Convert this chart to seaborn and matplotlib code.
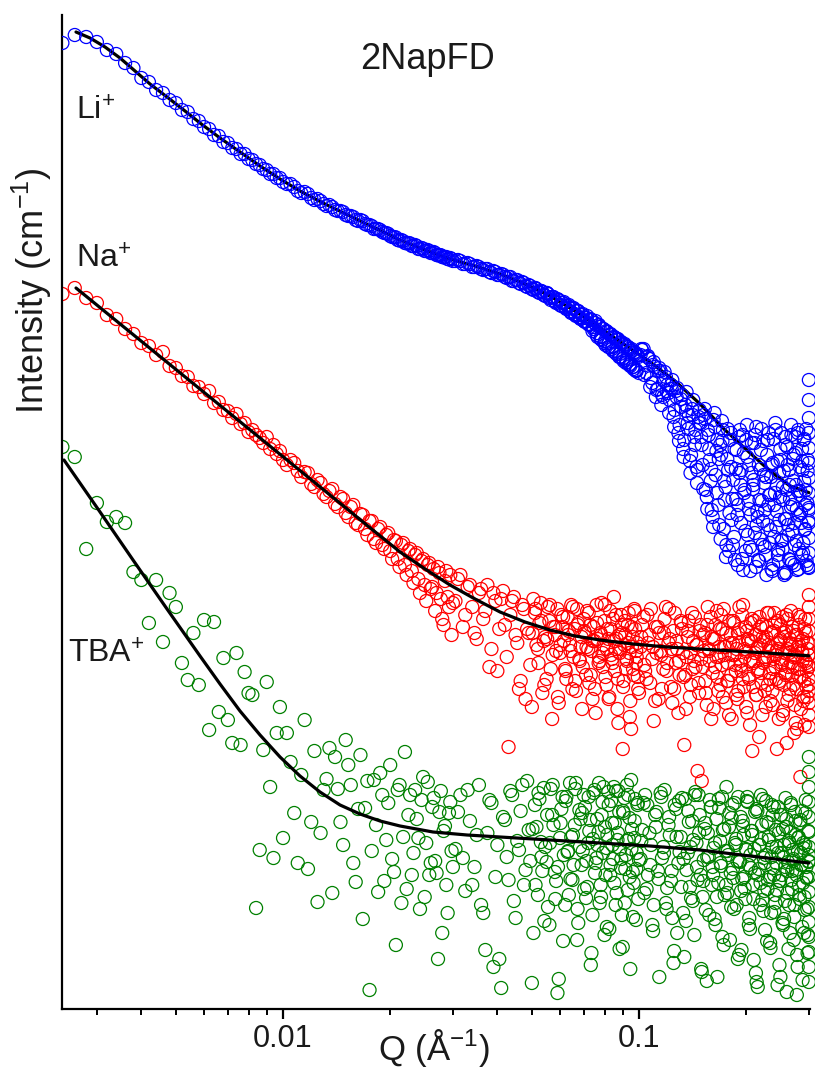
import numpy as np
import matplotlib
matplotlib.use("Agg")
import matplotlib.pyplot as plt
from matplotlib.ticker import LogLocator, NullFormatter, NullLocator
import seaborn as sns

sns.set_theme(style="white")
plt.rcParams["font.family"] = ["Liberation Sans", "DejaVu Sans"]
plt.rcParams["mathtext.fontset"] = "custom"
plt.rcParams["mathtext.rm"] = "Liberation Sans"
plt.rcParams["mathtext.it"] = "Liberation Sans:italic"
plt.rcParams["mathtext.bf"] = "Liberation Sans:bold"
plt.rcParams["mathtext.default"] = "regular"

# ---- scattering vector grid of the first detector setting (1/Angstrom) ----
q_grid = [
    0.0024, 0.0026, 0.0028, 0.0030, 0.0032, 0.0034, 0.0036, 0.0038, 0.0040, 0.0042,
    0.0044, 0.0046, 0.0048, 0.0050, 0.0052, 0.0054, 0.0056, 0.0058, 0.0060, 0.0062,
    0.0064, 0.0066, 0.0068, 0.0070, 0.0072, 0.0074, 0.0076, 0.0078, 0.0080, 0.0082,
    0.0084, 0.0086, 0.0088, 0.0090, 0.0092, 0.0094, 0.0096, 0.0098, 0.0100,
    0.0105, 0.0110, 0.0115, 0.0120, 0.0125, 0.0130, 0.0135, 0.0140, 0.0145, 0.0150,
    0.0155, 0.0160, 0.0165, 0.0170, 0.0175, 0.0180, 0.0185, 0.0190, 0.0195, 0.0200,
    0.0205, 0.0210, 0.0215, 0.0220, 0.0225, 0.0230, 0.0235, 0.0240, 0.0245, 0.0250,
    0.0255, 0.0260, 0.0265, 0.0270, 0.0275, 0.0280, 0.0285, 0.0290, 0.0295, 0.0300,
    0.031, 0.032, 0.033, 0.034, 0.035, 0.036, 0.037, 0.038, 0.039, 0.040,
    0.041, 0.042, 0.043, 0.044, 0.045, 0.046, 0.047, 0.048, 0.049, 0.050,
    0.051, 0.052, 0.053, 0.054, 0.055, 0.056, 0.057, 0.058, 0.059, 0.060,
    0.061, 0.062, 0.063, 0.064, 0.065, 0.066, 0.067, 0.068, 0.069, 0.070,
    0.071, 0.072, 0.073, 0.074, 0.075, 0.076, 0.077, 0.078, 0.079, 0.080,
    0.081, 0.082, 0.083, 0.084, 0.085, 0.086, 0.087, 0.088, 0.089, 0.090,
    0.091, 0.092, 0.093, 0.094, 0.095, 0.096, 0.097, 0.098, 0.099, 0.100,
    0.102, 0.104, 0.106, 0.108, 0.110, 0.112, 0.114, 0.116, 0.118, 0.120,
    0.122, 0.124, 0.126, 0.128, 0.130, 0.132, 0.134, 0.136, 0.138, 0.140,
    0.142, 0.144, 0.146, 0.148, 0.150, 0.152, 0.154, 0.156, 0.158, 0.160,
    0.162, 0.164, 0.166, 0.168, 0.170, 0.172, 0.174, 0.176, 0.178, 0.180,
    0.182, 0.184, 0.186, 0.188, 0.190, 0.192, 0.194, 0.196, 0.198, 0.200,
    0.202, 0.204, 0.206, 0.208, 0.210, 0.212, 0.214, 0.216, 0.218, 0.220,
    0.222, 0.224, 0.226, 0.228, 0.230, 0.232, 0.234, 0.236, 0.238, 0.240,
    0.242, 0.244, 0.246, 0.248, 0.250, 0.252, 0.254, 0.256, 0.258, 0.260,
    0.262, 0.264, 0.266, 0.268, 0.270, 0.272, 0.274, 0.276, 0.278, 0.280,
    0.282, 0.284, 0.286, 0.288, 0.290, 0.292, 0.294, 0.296, 0.298, 0.300,
]

# ---- interleaved grid of the second detector setting ----
q_grid2 = [
    0.01025, 0.01075, 0.01125, 0.01175, 0.01225, 0.01275, 0.01325, 0.01375, 0.01425, 0.01475,
    0.01525, 0.01575, 0.01625, 0.01675, 0.01725, 0.01775, 0.01825, 0.01875, 0.01925, 0.01975,
    0.02025, 0.02075, 0.02125, 0.02175, 0.02225, 0.02275, 0.02325, 0.02375, 0.02425, 0.02475,
    0.02525, 0.02575, 0.02625, 0.02675, 0.02725, 0.02775, 0.02825, 0.02875, 0.02925, 0.02975,
    0.0305, 0.0315, 0.0325, 0.0335, 0.0345, 0.0355, 0.0365, 0.0375, 0.0385, 0.0395,
    0.0405, 0.0415, 0.0425, 0.0435, 0.0445, 0.0455, 0.0465, 0.0475, 0.0485, 0.0495,
    0.0505, 0.0515, 0.0525, 0.0535, 0.0545, 0.0555, 0.0565, 0.0575, 0.0585, 0.0595,
    0.0605, 0.0615, 0.0625, 0.0635, 0.0645, 0.0655, 0.0665, 0.0675, 0.0685, 0.0695,
    0.0705, 0.0715, 0.0725, 0.0735, 0.0745, 0.0755, 0.0765, 0.0775, 0.0785, 0.0795,
    0.0805, 0.0815, 0.0825, 0.0835, 0.0845, 0.0855, 0.0865, 0.0875, 0.0885, 0.0895,
    0.0905, 0.0915, 0.0925, 0.0935, 0.0945, 0.0955, 0.0965, 0.0975, 0.0985, 0.0995,
    0.101, 0.103, 0.105, 0.107, 0.109, 0.111, 0.113, 0.115, 0.117, 0.119,
    0.121, 0.123, 0.125, 0.127, 0.129, 0.131, 0.133, 0.135, 0.137, 0.139,
    0.141, 0.143, 0.145, 0.147, 0.149, 0.151, 0.153, 0.155, 0.157, 0.159,
    0.161, 0.163, 0.165, 0.167, 0.169, 0.171, 0.173, 0.175, 0.177, 0.179,
    0.181, 0.183, 0.185, 0.187, 0.189, 0.191, 0.193, 0.195, 0.197, 0.199,
    0.201, 0.203, 0.205, 0.207, 0.209, 0.211, 0.213, 0.215, 0.217, 0.219,
    0.221, 0.223, 0.225, 0.227, 0.229, 0.231, 0.233, 0.235, 0.237, 0.239,
    0.241, 0.243, 0.245, 0.247, 0.249, 0.251, 0.253, 0.255, 0.257, 0.259,
    0.261, 0.263, 0.265, 0.267, 0.269, 0.271, 0.273, 0.275, 0.277, 0.279,
    0.281, 0.283, 0.285, 0.287, 0.289, 0.291, 0.293, 0.295, 0.297, 0.299,
]

# ---- third setting, high-Q range only ----
q_grid3 = [
    0.0502, 0.0512, 0.0522, 0.0532, 0.0542, 0.0552, 0.0562, 0.0572, 0.0582, 0.0592,
    0.0602, 0.0612, 0.0622, 0.0632, 0.0642, 0.0652, 0.0662, 0.0672, 0.0682, 0.0692,
    0.0702, 0.0712, 0.0722, 0.0732, 0.0742, 0.0752, 0.0762, 0.0772, 0.0782, 0.0792,
    0.0802, 0.0812, 0.0822, 0.0832, 0.0842, 0.0852, 0.0862, 0.0872, 0.0882, 0.0892,
    0.0902, 0.0912, 0.0922, 0.0932, 0.0942, 0.0952, 0.0962, 0.0972, 0.0982, 0.0992,
    0.1015, 0.1035, 0.1055, 0.1075, 0.1095, 0.1115, 0.1135, 0.1155, 0.1175, 0.1195,
    0.1215, 0.1235, 0.1255, 0.1275, 0.1295, 0.1315, 0.1335, 0.1355, 0.1375, 0.1395,
    0.1415, 0.1435, 0.1455, 0.1475, 0.1495, 0.1515, 0.1535, 0.1555, 0.1575, 0.1595,
    0.1615, 0.1635, 0.1655, 0.1675, 0.1695, 0.1715, 0.1735, 0.1755, 0.1775, 0.1795,
    0.1815, 0.1835, 0.1855, 0.1875, 0.1895, 0.1915, 0.1935, 0.1955, 0.1975, 0.1995,
    0.2015, 0.2035, 0.2055, 0.2075, 0.2095, 0.2115, 0.2135, 0.2155, 0.2175, 0.2195,
    0.2215, 0.2235, 0.2255, 0.2275, 0.2295, 0.2315, 0.2335, 0.2355, 0.2375, 0.2395,
    0.2415, 0.2435, 0.2455, 0.2475, 0.2495, 0.2515, 0.2535, 0.2555, 0.2575, 0.2595,
    0.2615, 0.2635, 0.2655, 0.2675, 0.2695, 0.2715, 0.2735, 0.2755, 0.2775, 0.2795,
    0.2815, 0.2835, 0.2855, 0.2875, 0.2895, 0.2915, 0.2935, 0.2955, 0.2975, 0.2995,
]

# ---- measured intensities, log10(I / cm^-1), curves offset for clarity ----
li_log_i = [
    2.83, 2.87, 2.86, 2.835, 2.795, 2.775, 2.73, 2.705, 2.655, 2.635,
    2.595, 2.58, 2.545, 2.53, 2.495, 2.485, 2.45, 2.44, 2.41, 2.40,
    2.37, 2.365, 2.335, 2.33, 2.305, 2.30, 2.275, 2.275, 2.25, 2.245,
    2.225, 2.22, 2.20, 2.195, 2.175, 2.175, 2.155, 2.155, 2.135,
    2.125, 2.09, 2.085, 2.055, 2.05, 2.025, 2.02, 1.995, 1.99, 1.97,
    1.965, 1.945, 1.945, 1.925, 1.92, 1.90, 1.90, 1.885, 1.88, 1.865,
    1.86, 1.845, 1.845, 1.83, 1.83, 1.815, 1.82, 1.80, 1.805, 1.79,
    1.795, 1.78, 1.785, 1.77, 1.77, 1.76, 1.76, 1.75, 1.755, 1.74,
    1.745, 1.725, 1.73, 1.71, 1.715, 1.70, 1.70, 1.685, 1.69, 1.67,
    1.675, 1.66, 1.66, 1.64, 1.645, 1.63, 1.635, 1.615, 1.62, 1.60,
    1.605, 1.585, 1.59, 1.57, 1.58, 1.555, 1.56, 1.54, 1.55, 1.52,
    1.53, 1.51, 1.515, 1.49, 1.505, 1.475, 1.49, 1.46, 1.47, 1.44,
    1.455, 1.425, 1.45, 1.39, 1.43, 1.37, 1.42, 1.35, 1.40, 1.33,
    1.39, 1.31, 1.37, 1.30, 1.36, 1.28, 1.35, 1.26, 1.33, 1.25,
    1.32, 1.23, 1.31, 1.22, 1.29, 1.21, 1.28, 1.19, 1.27, 1.18,
    1.295, 1.22, 1.265, 1.155, 1.235, 1.095, 1.205, 1.07, 1.185, 1.12,
    1.045, 1.145, 0.995, 1.105, 0.92, 1.07, 0.845, 1.085, 0.97, 0.77,
    1.045, 0.895, 0.695, 0.995, 0.82, 0.97, 0.595, 0.895, 0.745, 0.495,
    0.945, 0.67, 0.845, 0.42, 0.77, 0.895, 0.545, 0.32, 0.695, 0.845,
    0.445, 0.645, 0.245, 0.795, 0.52, 0.895, 0.695, 0.195, 0.595, 0.845,
    0.37, 0.72, 0.47, 0.295, 0.645, 0.87, 0.42, 0.245, 0.545, 0.795,
    0.32, 0.67, 0.495, 0.17, 0.845, 0.57, 0.395, 0.72, 0.22, 0.52,
    0.895, 0.62, 0.295, 0.445, 0.745, 0.345, 0.545, 0.17, 0.82, 0.595,
    0.42, 0.695, 0.245, 0.87, 0.52, 0.77, 0.32, 0.62, 0.195, 0.895,
    0.47, 0.57, 0.27, 0.695, 0.845, 0.395, 0.595, 0.22, 0.745, 0.495,
]
li2_log_i = [
    2.125, 2.11, 2.08, 2.075, 2.045, 2.04, 2.015, 2.01, 1.99, 1.985,
    1.965, 1.96, 1.94, 1.94, 1.92, 1.915, 1.90, 1.895, 1.88, 1.876,
    1.86, 1.858, 1.842, 1.84, 1.828, 1.828, 1.815, 1.815, 1.80, 1.802,
    1.79, 1.79, 1.78, 1.78, 1.768, 1.769, 1.758, 1.76, 1.748, 1.75,
    1.74, 1.74, 1.725, 1.725, 1.71, 1.71, 1.695, 1.70, 1.68, 1.685,
    1.67, 1.672, 1.655, 1.66, 1.64, 1.645, 1.625, 1.63, 1.61, 1.615,
    1.595, 1.60, 1.58, 1.585, 1.565, 1.575, 1.545, 1.56, 1.53, 1.545,
    1.515, 1.535, 1.50, 1.52, 1.48, 1.505, 1.465, 1.49, 1.45, 1.475,
    1.435, 1.465, 1.42, 1.445, 1.40, 1.44, 1.36, 1.41, 1.345, 1.40,
    1.32, 1.385, 1.31, 1.37, 1.29, 1.355, 1.275, 1.345, 1.26, 1.325,
    1.24, 1.315, 1.235, 1.30, 1.215, 1.29, 1.20, 1.275, 1.19, 1.26,
    1.27, 1.30, 1.18, 1.25, 1.13, 1.21, 1.10, 1.19, 1.06, 1.16,
    1.08, 1.12, 0.96, 1.09, 0.88, 1.05, 0.80, 1.02, 0.93, 0.74,
    1.00, 0.86, 0.71, 0.96, 0.93, 0.72, 1.00, 0.56, 0.87, 0.64,
    0.46, 0.98, 0.79, 0.52, 0.82, 0.94, 0.40, 0.61, 0.75, 0.29,
    0.88, 0.55, 0.36, 0.70, 0.47, 0.86, 0.62, 0.25, 0.78, 0.39,
    0.92, 0.54, 0.31, 0.68, 0.60, 0.83, 0.21, 0.49, 0.72, 0.35,
    0.90, 0.44, 0.63, 0.27, 0.77, 0.52, 0.33, 0.66, 0.19, 0.85,
    0.58, 0.41, 0.74, 0.24, 0.56, 0.88, 0.30, 0.69, 0.45, 0.18,
    0.81, 0.37, 0.62, 0.51, 0.23, 0.75, 0.43, 0.86, 0.34, 0.59,
    0.20, 0.71, 0.48, 0.80, 0.28, 0.64, 0.40, 0.90, 0.53, 0.21,
]
li3_log_i = [
    1.60, 1.605, 1.585, 1.59, 1.57, 1.58, 1.555, 1.56, 1.535, 1.545,
    1.52, 1.53, 1.505, 1.515, 1.485, 1.50, 1.47, 1.49, 1.455, 1.47,
    1.44, 1.455, 1.425, 1.445, 1.41, 1.43, 1.38, 1.42, 1.36, 1.40,
    1.34, 1.385, 1.33, 1.375, 1.31, 1.36, 1.29, 1.35, 1.275, 1.335,
    1.255, 1.325, 1.245, 1.31, 1.225, 1.30, 1.21, 1.285, 1.195, 1.27,
    1.30, 1.17, 1.26, 1.11, 1.22, 1.06, 1.19, 1.02, 1.14, 1.09,
    0.98, 1.10, 0.91, 1.06, 0.84, 1.01, 0.76, 0.99, 0.90, 0.68,
    0.97, 0.82, 0.63, 0.93, 0.86, 0.60, 0.95, 0.50, 0.80, 0.70,
    0.41, 0.91, 0.58, 0.75, 0.35, 0.84, 0.64, 0.26, 0.90, 0.48,
    0.71, 0.32, 0.80, 0.55, 0.22, 0.68, 0.43, 0.87, 0.58, 0.29,
    0.76, 0.50, 0.19, 0.83, 0.62, 0.38, 0.91, 0.46, 0.24, 0.70,
    0.54, 0.84, 0.31, 0.66, 0.42, 0.88, 0.57, 0.20, 0.73, 0.36,
    0.93, 0.49, 0.27, 0.68, 0.80, 0.34, 0.61, 0.18, 0.86, 0.45,
    0.72, 0.25, 0.55, 0.92, 0.39, 0.64, 0.22, 0.78, 0.50, 0.88,
    0.30, 0.59, 0.43, 0.74, 0.33, 0.85, 0.52, 0.24, 0.69, 0.44,
]
na_log_i = [
    1.575, 1.605, 1.555, 1.53, 1.47, 1.45, 1.40, 1.375, 1.33, 1.315,
    1.27, 1.285, 1.215, 1.205, 1.165, 1.16, 1.115, 1.11, 1.075, 1.09,
    1.03, 1.035, 0.995, 0.99, 0.955, 0.975, 0.925, 0.93, 0.885, 0.895,
    0.87, 0.855, 0.83, 0.86, 0.80, 0.82, 0.775, 0.79, 0.745,
    0.745, 0.69, 0.685, 0.625, 0.645, 0.575, 0.59, 0.525, 0.56, 0.48,
    0.51, 0.43, 0.475, 0.40, 0.44, 0.35, 0.40, 0.32, 0.37, 0.29,
    0.345, 0.25, 0.32, 0.22, 0.29, 0.19, 0.27, 0.15, 0.24, 0.12,
    0.22, 0.10, 0.20, 0.08, 0.18, -0.05, 0.14, 0.06, 0.17, 0.03,
    0.15, -0.09, 0.11, 0.01, -0.15, 0.10, -0.01, -0.29, 0.08, -0.31,
    0.05, -0.08, -0.69, 0.04, -0.13, -0.40, 0.02, -0.45, -0.12, -0.49,
    -0.02, -0.20, 0.03, -0.16, -0.35, -0.06, -0.55, -0.13, 0.0, -0.22,
    -0.09, -0.30, -0.04, -0.18, -0.40, -0.10, 0.0, -0.25, -0.14, -0.05,
    -0.33, -0.20, -0.08, -0.45, -0.16, 0.02, -0.27, -0.12, -0.22, -0.06,
    -0.38, -0.15, -0.01, -0.25, 0.06, -0.20, -0.50, -0.13, -0.03, -0.70,
    -0.18, -0.30, -0.08, -0.22, -0.60, -0.14, 0.0, -0.27, -0.17, -0.42,
    -0.08, -0.31, -0.17, 0.00, -0.56, -0.22, -0.12, -0.40, -0.05, -0.27,
    -0.15, -0.47, -0.02, -0.20, -0.33, -0.10, -0.68, -0.24, -0.06, -0.38,
    -0.16, -0.29, -0.81, -0.11, -0.86, -0.21, -0.42, 0.01, -0.26, -0.14,
    -0.50, -0.08, -0.34, -0.19, -0.03, -0.44, -0.23, -0.12, -0.36, -0.17,
    -0.55, -0.06, -0.28, -0.20, -0.41, -0.10, -0.31, 0.02, -0.24, -0.49,
    -0.15, -0.35, -0.07, -0.71, -0.26, -0.13, -0.43, -0.19, -0.04, -0.32,
    -0.53, -0.16, -0.25, -0.09, -0.38, -0.21, -0.46, -0.12, -0.30, -0.02,
    -0.23, -0.70, -0.17, -0.36, -0.08, -0.27, -0.51, -0.14, -0.33, -0.67,
    -0.05, -0.22, -0.40, -0.18, -0.29, -0.11, -0.48, -0.24, -0.60, -0.03,
    -0.34, -0.84, -0.16, -0.26, -0.44, -0.58, -0.12, -0.31, -0.20, -0.38,
]
na2_log_i = [
    0.72, 0.73, 0.66, 0.68, 0.61, 0.63, 0.56, 0.60, 0.51, 0.55,
    0.46, 0.52, 0.42, 0.47, 0.37, 0.44, 0.33, 0.41, 0.30, 0.38,
    0.25, 0.34, 0.21, 0.33, 0.17, 0.30, 0.13, 0.28, 0.08, 0.25,
    0.04, 0.23, 0.11, -0.01, 0.21, 0.05, -0.08, 0.19, 0.01, -0.13,
    0.04, 0.17, -0.03, 0.12, -0.12, 0.08, -0.05, 0.12, -0.20, 0.04,
    -0.10, 0.09, -0.24, -0.03, 0.06, -0.17, -0.36, 0.0, -0.10, -0.28,
    0.05, -0.18, -0.07, -0.42, -0.14, 0.01, -0.30, -0.09, -0.21, -0.47,
    -0.03, -0.16, -0.35, -0.11, 0.02, -0.24, -0.41, -0.07, -0.19, -0.29,
    -0.12, -0.01, -0.37, -0.21, -0.09, -0.52, -0.15, -0.26, 0.03, -0.18,
    -0.34, -0.10, -0.44, -0.23, -0.05, -0.31, -0.15, -0.57, -0.20, -0.08,
    -0.36, -0.13, -0.26, -0.02, -0.46, -0.19, -0.33, -0.10, -0.24, -0.40,
    -0.19, -0.04, -0.35, -0.13, -0.25, -0.46, -0.09, -0.21, -0.30, 0.01,
    -0.17, -0.39, -0.11, -0.27, -0.52, -0.06, -0.22, -0.33, -0.14, -0.44,
    -0.02, -0.26, -0.18, -0.37, -0.08, -0.29, -0.12, -0.48, -0.20, -0.04,
    -0.32, -0.15, -0.24, -0.41, -0.10, -0.28, 0.00, -0.19, -0.36, -0.53,
    -0.13, -0.23, -0.07, -0.31, -0.45, -0.17, -0.26, -0.03, -0.39, -0.21,
    -0.11, -0.34, -0.58, -0.16, -0.27, -0.06, -0.43, -0.20, -0.30, -0.09,
    -0.37, -0.14, -0.24, -0.49, -0.02, -0.18, -0.32, -0.12, -0.41, -0.25,
    -0.07, -0.35, -0.20, -0.55, -0.15, -0.28, -0.04, -0.38, -0.22, -0.11,
    -0.46, -0.29, -0.17, -0.01, -0.33, -0.24, -0.62, -0.13, -0.40, -0.19,
    -0.08, -0.30, -0.50, -0.21, -0.15, -0.36, -0.05, -0.27, -0.44, -0.23,
]
na3_log_i = [
    -0.12, 0.00, -0.27, -0.06, -0.38, -0.15, 0.02, -0.23, -0.09, -0.44,
    -0.18, -0.04, -0.31, -0.13, -0.21, 0.01, -0.36, -0.08, -0.26, -0.50,
    -0.11, -0.19, -0.02, -0.33, -0.16, -0.40, -0.07, -0.24, -0.13, -0.29,
    0.02, -0.20, -0.45, -0.10, -0.27, -0.16, -0.03, -0.35, -0.22, -0.12,
    -0.39, -0.06, -0.25, -0.17, -0.54, -0.09, -0.30, -0.01, -0.21, -0.34,
    -0.14, -0.28, -0.03, -0.37, -0.19, -0.09, -0.45, -0.23, -0.12, -0.31,
    0.00, -0.20, -0.40, -0.16, -0.26, -0.07, -0.34, -0.50, -0.11, -0.22,
    -0.30, -0.04, -0.18, -0.42, -0.25, -0.13, -0.36, -0.08, -0.21, -0.55,
    -0.15, -0.29, -0.01, -0.24, -0.38, -0.10, -0.19, -0.47, -0.27, -0.06,
    -0.33, -0.17, -0.23, -0.43, -0.12, 0.01, -0.28, -0.35, -0.20, -0.09,
    -0.52, -0.16, -0.26, -0.05, -0.39, -0.22, -0.13, -0.31, -0.64, -0.18,
    -0.08, -0.27, -0.41, -0.14, -0.24, -0.02, -0.35, -0.19, -0.48, -0.11,
    -0.29, -0.21, -0.06, -0.37, -0.16, -0.25, -0.53, -0.12, -0.32, -0.03,
    -0.20, -0.43, -0.15, -0.27, -0.09, -0.38, -0.23, -0.57, -0.13, -0.30,
    -0.18, -0.04, -0.34, -0.22, -0.46, -0.10, -0.26, -0.39, -0.17, -0.28,
]
tba_log_i = [
    0.81, 0.76, 0.30, 0.53, 0.435, 0.46, 0.43, 0.185, 0.145, -0.07,
    0.145, -0.165, 0.08, 0.01, -0.27, -0.355, -0.12, -0.38, -0.055, -0.605,
    -0.065, -0.515, -0.245, -0.555, -0.67, -0.22, -0.68, -0.315, -0.42, -0.43,
    -1.495, -1.205, -0.705, -0.365, -0.89, -1.245, -0.62, -0.49, -1.145,
    -0.765, -1.27, -0.555, -1.065, -1.465, -0.905, -0.695, -0.74, -1.065, -0.655,
    -0.88, -1.365, -0.73, -0.995, -1.905, -0.855, -1.415, -0.93, -1.155, -0.78,
    -1.315, -0.905, -1.47, -0.715, -1.03, -1.33, -0.905, -1.145, -0.955, -1.44,
    -0.865, -1.27, -0.945, -1.32, -1.015, -1.62, -1.085, -1.52, -0.965, -1.29,
    -1.015, -1.245, -0.905, -1.38, -1.13, -1.48, -1.705, -0.955, -1.79, -1.18,
    -1.895, -1.055, -1.355, -0.93, -1.545, -1.205, -0.88, -1.305, -1.105, -1.87,
    -0.98, -1.43, -1.165, -0.895, -1.265, -1.58, -1.03, -1.315, -1.92, -1.145,
    -0.94, -1.48, -1.215, -0.87, -1.355, -1.08, -1.655, -1.005, -1.28, -0.93,
    -1.445, -1.17, -1.055, -1.53, -0.905, -1.245, -1.115, -1.38, -0.965, -1.63,
    -1.195, -0.915, -1.33, -1.07, -0.89, -1.48, -1.155, -1.015, -1.295, -1.69,
    -0.945, -1.23, -1.405, -1.045, -0.855, -1.315, -1.145, -1.555, -0.98, -1.255,
    -1.105, -0.93, -1.33, -1.18, -1.48, -1.015, -1.84, -1.245, -0.905, -1.395,
    -1.13, -1.545, -0.98, -1.62, -1.215, -0.945, -1.74, -1.305, -1.065, -1.445,
    -1.155, -0.915, -1.355, -1.03, -1.815, -1.255, -1.505, -1.12, -0.955, -1.38,
    -1.195, -1.58, -1.84, -0.995, -1.285, -1.105, -1.43, -0.89, -1.23, -1.655,
    -1.045, -1.345, -1.17, -1.48, -0.94, -1.265, -1.705, -1.085, -1.395, -1.205,
    -0.965, -1.545, -1.295, -1.13, -1.755, -1.015, -1.865, -1.33, -1.18, -0.93,
    -1.455, -1.245, -1.605, -1.065, -1.355, -1.155, -1.695, -0.98, -1.295, -1.515,
    -1.105, -1.405, -1.22, -1.78, -1.03, -1.33, -1.58, -1.18, -0.945, -1.915,
    -1.265, -1.48, -1.115, -1.355, -1.205, -1.655, -1.015, -1.305, -1.73, -1.145,
    -1.43, -1.055, -1.28, -1.855, -1.195, -1.505, -0.955, -1.345, -1.63, -1.23,
]
tba2_log_i = [
    -0.62, -1.02, -0.83, -1.30, -0.71, -1.12, -0.85, -1.42, -0.90, -1.18,
    -0.78, -1.27, -1.00, -1.55, -0.86, -1.21, -1.08, -0.82, -1.36, -0.97,
    -1.25, -1.68, -0.88, -1.14, -1.40, -0.93, -1.22, -1.05, -1.50, -0.84,
    -1.17, -1.33, -0.99, -1.26, -1.75, -0.91, -1.11, -1.38, -1.02, -1.21,
    -1.20, -0.93, -1.41, -1.06, -1.29, -0.88, -1.52, -1.12, -0.97, -1.34,
    -1.75, -1.04, -1.24, -0.91, -1.46, -1.16, -1.01, -1.38, -0.86, -1.26,
    -1.62, -1.09, -0.95, -1.31, -1.19, -1.49, -0.90, -1.08, -1.36, -1.85,
    -1.00, -1.23, -0.94, -1.43, -1.14, -1.28, -0.87, -1.57, -1.05, -1.21,
    -0.99, -1.39, -1.11, -1.72, -0.92, -1.27, -1.18, -1.47, -1.03, -0.89,
    -1.33, -1.13, -1.60, -0.96, -1.25, -1.07, -1.42, -0.91, -1.20, -1.53,
    -1.02, -1.30, -0.88, -1.15, -1.80, -1.10, -1.37, -0.95, -1.22, -1.45,
    -1.25, -0.97, -1.40, -1.12, -1.58, -1.03, -1.31, -0.92, -1.19, -1.47,
    -1.08, -1.36, -1.77, -1.00, -1.27, -1.14, -1.52, -0.95, -1.22, -1.39,
    -1.06, -1.63, -1.17, -0.93, -1.33, -1.44, -1.10, -1.86, -1.24, -0.99,
    -1.29, -1.55, -1.05, -1.37, -1.16, -0.94, -1.68, -1.21, -1.42, -1.09,
    -1.32, -0.98, -1.50, -1.18, -1.26, -1.73, -1.04, -1.35, -1.13, -1.45,
    -0.96, -1.28, -1.60, -1.11, -1.38, -1.20, -1.82, -1.01, -1.30, -1.48,
    -1.15, -0.95, -1.41, -1.23, -1.66, -1.07, -1.34, -1.52, -1.19, -0.99,
    -1.43, -1.27, -1.88, -1.12, -1.36, -1.03, -1.57, -1.24, -1.46, -1.09,
    -1.31, -1.70, -1.17, -0.97, -1.40, -1.26, -1.54, -1.06, -1.33, -1.79,
    -1.14, -1.45, -1.22, -1.01, -1.37, -1.62, -1.18, -1.29, -1.50, -1.11,
]
tba3_log_i = [
    -1.10, -1.38, -0.92, -1.24, -1.56, -1.03, -1.17, -0.88, -1.45, -1.29,
    -1.07, -1.66, -0.96, -1.21, -1.35, -1.13, -0.90, -1.50, -1.19, -1.02,
    -1.40, -1.26, -0.94, -1.78, -1.15, -1.32, -1.05, -0.87, -1.44, -1.22,
    -1.09, -1.59, -0.98, -1.28, -1.18, -1.37, -0.91, -1.12, -1.70, -1.25,
    -1.01, -1.47, -1.16, -0.93, -1.34, -1.20, -1.54, -1.06, -1.30, -0.97,
    -1.16, -1.42, -0.98, -1.28, -1.61, -1.09, -1.35, -0.94, -1.22, -1.50,
    -1.04, -1.31, -1.71, -1.14, -0.96, -1.39, -1.25, -1.56, -1.01, -1.19,
    -1.46, -0.93, -1.29, -1.12, -1.80, -1.36, -1.07, -1.24, -1.53, -0.99,
    -1.33, -1.17, -1.44, -0.95, -1.27, -1.64, -1.10, -1.38, -1.21, -1.02,
    -1.49, -1.30, -0.97, -1.15, -1.75, -1.26, -1.41, -1.06, -1.34, -1.20,
    -0.94, -1.58, -1.23, -1.11, -1.45, -1.32, -1.00, -1.89, -1.18, -1.37,
    -1.08, -1.51, -1.27, -0.96, -1.40, -1.14, -1.67, -1.24, -1.03, -1.33,
    -1.47, -1.19, -0.99, -1.36, -1.84, -1.22, -1.10, -1.55, -1.29, -1.05,
    -1.42, -1.16, -1.62, -0.98, -1.31, -1.25, -1.48, -1.13, -1.93, -1.21,
    -1.38, -1.07, -1.28, -1.59, -1.17, -1.44, -1.02, -1.34, -1.72, -1.26,
]

# repeated readings collected at the last Q point of each run
q_edge_li = [0.300] * 13
li_edge_log_i = [1.145, 1.045, 0.955, 0.88, 0.805, 0.73, 0.655, 0.58, 0.505, 0.43,
                 0.355, 0.28, 0.205]
q_edge_na = [0.300] * 12
na_edge_log_i = [0.07, 0.01, -0.05, -0.11, -0.17, -0.23, -0.29, -0.35, -0.41, -0.47,
                 -0.53, -0.59]
q_edge_tba = [0.300] * 16
tba_edge_log_i = [-0.74, -0.815, -0.89, -0.965, -1.04, -1.115, -1.19, -1.265, -1.34,
                  -1.415, -1.49, -1.565, -1.64, -1.715, -1.79, -1.865]

# ---- model fits ----
li_fit_q = [0.002621, 0.002870, 0.003162, 0.003484, 0.003839, 0.004230, 0.004722,
            0.005305, 0.005845, 0.006653, 0.007571, 0.008618, 0.009808, 0.01116,
            0.01312, 0.01543, 0.01813, 0.02132, 0.02506, 0.02945, 0.03462, 0.04070,
            0.04784, 0.05623, 0.06610, 0.07770, 0.09134, 0.1074, 0.1262, 0.1484,
            0.1744, 0.2050, 0.2333, 0.2656, 0.300]
li_fit_log_i = [2.885, 2.855, 2.81, 2.755, 2.69, 2.625, 2.56, 2.49, 2.43, 2.355,
                2.285, 2.215, 2.15, 2.09, 2.025, 1.965, 1.905, 1.845, 1.795, 1.75,
                1.715, 1.675, 1.625, 1.565, 1.49, 1.405, 1.32, 1.235, 1.14, 1.025,
                0.895, 0.78, 0.69, 0.615, 0.582]
na_fit_q = [0.002621, 0.01543, 0.01813, 0.02132, 0.02506, 0.02945, 0.03462, 0.04070,
            0.04784, 0.05623, 0.06610, 0.07770, 0.09619, 0.1198, 0.1484, 0.1837,
            0.2289, 0.300]
na_fit_log_i = [1.605, 0.488, 0.386, 0.285, 0.20, 0.12, 0.05, -0.015, -0.065, -0.105,
                -0.135, -0.155, -0.175, -0.19, -0.20, -0.21, -0.22, -0.234]
tba_fit_q = [0.002425, 0.003062, 0.003790, 0.004722, 0.005845, 0.006653, 0.007571,
             0.008618, 0.009808, 0.01116, 0.01270, 0.01446, 0.01645, 0.01873,
             0.02132, 0.02638, 0.03287, 0.04070, 0.05623, 0.07770, 0.1074, 0.1484,
             0.2050, 0.300]
tba_fit_log_i = [0.745, 0.485, 0.245, 0.0, -0.235, -0.375, -0.51, -0.63, -0.74, -0.835,
                 -0.915, -0.98, -1.025, -1.06, -1.085, -1.115, -1.13, -1.14, -1.155,
                 -1.17, -1.185, -1.205, -1.235, -1.27]

W, H = 815, 1068
fig = plt.figure(figsize=(W / 100, H / 100), dpi=100)
ax = fig.add_axes([62 / W, 59 / H, 753 / W, 994 / H])
ax.set_xscale("log")
ax.set_yscale("log")
ax.set_xlim(0.002394, 0.3121)
ax.set_ylim(0.01, 10 ** 2.97)

q_all = q_grid + q_grid2 + q_grid3
# (Q, log I, fit Q, fit log I, colour, marker layer)
samples = [
    (q_all + q_edge_na, na_log_i + na2_log_i + na3_log_i + na_edge_log_i,
     na_fit_q, na_fit_log_i, "#ff0000", 2),
    (q_all + q_edge_tba, tba_log_i + tba2_log_i + tba3_log_i + tba_edge_log_i,
     tba_fit_q, tba_fit_log_i, "#008000", 2),
    (q_all + q_edge_li, li_log_i + li2_log_i + li3_log_i + li_edge_log_i,
     li_fit_q, li_fit_log_i, "#0000ff", 4),
]
for q, logi, fq, flogi, color, z in samples:
    sns.scatterplot(x=np.asarray(q), y=10 ** np.asarray(logi), ax=ax, marker="o",
                    s=88, facecolor="none", edgecolor=color, linewidth=0.9,
                    zorder=z, legend=False)
    sns.lineplot(x=np.asarray(fq), y=10 ** np.asarray(flogi), ax=ax, color="black",
                 linewidth=2.3, sort=False, estimator=None, zorder=3, legend=False)

for side in ("top", "right"):
    ax.spines[side].set_visible(False)
for side in ("left", "bottom"):
    ax.spines[side].set_color("black")
    ax.spines[side].set_linewidth(1.6)
ax.spines["bottom"].set_bounds(0.002394, 0.302)

ax.set_xticks([0.01, 0.1])
ax.set_xticklabels(["0.01", "0.1"])
ax.xaxis.set_minor_locator(LogLocator(base=10, subs=(2, 3, 4, 5, 6, 7, 8, 9), numticks=20))
ax.xaxis.set_minor_formatter(NullFormatter())
ax.yaxis.set_major_locator(NullLocator())
ax.yaxis.set_minor_locator(NullLocator())
ax.tick_params(axis="x", which="major", bottom=True, direction="out", length=7,
               width=1.6, labelsize=22, pad=3.5, colors="black", labelcolor="#1a1a1a")
ax.tick_params(axis="x", which="minor", bottom=True, direction="out", length=4,
               width=1.4, colors="black")
ax.set_xlabel("")
ax.set_ylabel("")

txt = "#1a1a1a"
fig.text(428 / W, 1 - 69 / H, "2NapFD", ha="center", va="baseline", fontsize=26, color=txt)
fig.text(76 / W, 1 - 120 / H, "Li$^{+}$", ha="left", va="baseline", fontsize=23, color=txt)
fig.text(76 / W, 1 - 268 / H, "Na$^{+}$", ha="left", va="baseline", fontsize=23, color=txt)
fig.text(68 / W, 1 - 663 / H, "TBA$^{+}$", ha="left", va="baseline", fontsize=23, color=txt)
fig.text(32 / W, 1 - 291 / H, "Intensity (cm$^{-1}$)", rotation=90, ha="center",
         va="center", fontsize=26, color=txt)
fig.text(434 / W, 1 - 1060 / H, "Q (Å$^{-1}$)", ha="center", va="baseline",
         fontsize=25, color=txt)

fig.savefig("out.png", dpi=100)
